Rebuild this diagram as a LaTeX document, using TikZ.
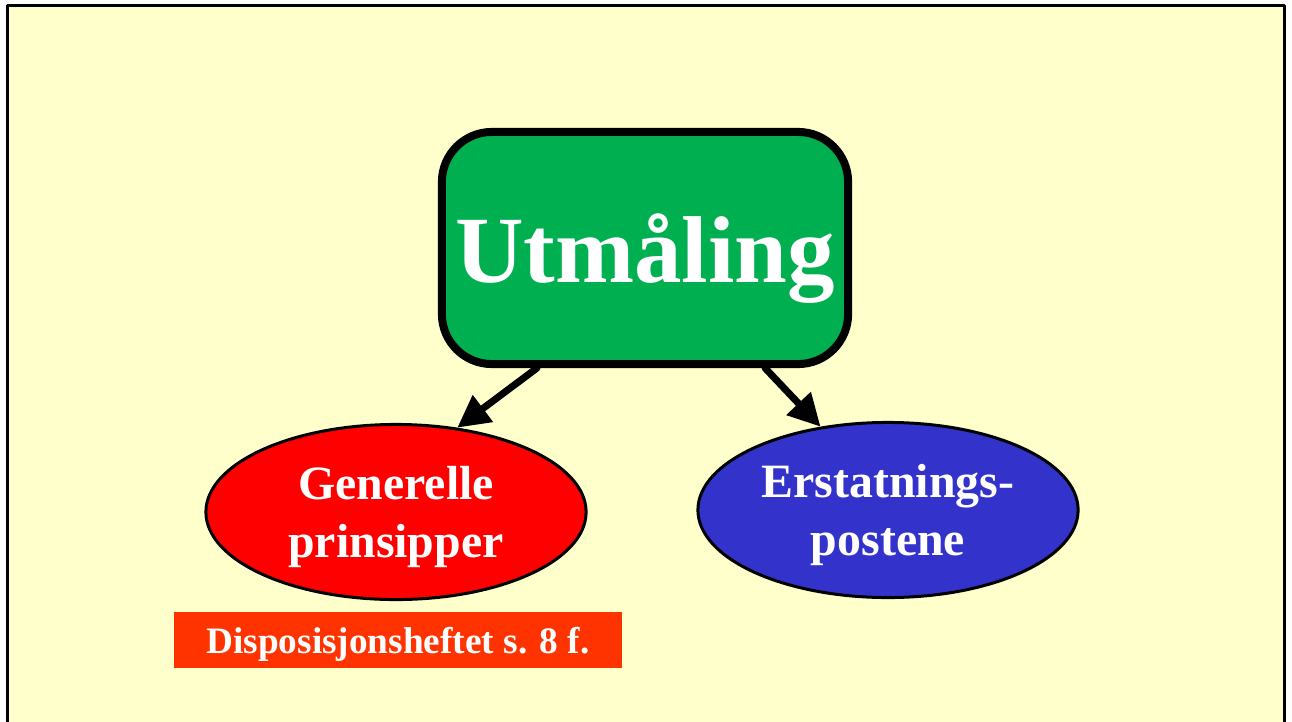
\documentclass[tikz,border=0pt]{standalone}
\usepackage{fontspec}
\setmainfont{Liberation Serif}
\usetikzlibrary{shapes.geometric,arrows.meta}
\definecolor{slidebg}{HTML}{FFFFCC}
\definecolor{hubgreen}{HTML}{00B050}
\definecolor{leftred}{HTML}{FF0000}
\definecolor{rightblue}{HTML}{3333CC}
\definecolor{refbox}{HTML}{FF3300}
\tikzset{
  hub/.style={draw, line width=0.08cm, fill=hubgreen, rounded corners=0.5cm, minimum width=4.06cm, minimum height=2.32cm, text=white, font=\fontsize{27}{32}\selectfont\bfseries, text depth=0pt},
  topic/.style={ellipse, draw, line width=0.03cm, minimum width=3.8cm, minimum height=1.75cm, inner sep=0pt, text=white, align=center, font=\fontsize{13.6}{16.6}\selectfont\bfseries, text depth=0pt},
  source/.style={fill=refbox, minimum width=4.48cm, minimum height=0.55cm, inner sep=0pt, text=white, font=\fontsize{10.6}{12}\selectfont\bfseries, text depth=0pt},
  link/.style={->, line width=0.07cm}
}
\begin{document}
\begin{tikzpicture}[line cap=round,line join=round,>={Triangle[length=0.32cm,width=0.32cm]},x=0.01cm,y=-0.01cm]
\useasboundingbox (0,0) rectangle (1292,721);
\clip (0,0) rectangle (1292,721);
\fill[white] (0,0) rectangle (1292,721);
\draw[line width=0.035cm, fill=slidebg] (7.5,5.5) rectangle (1284.5,760);
\node [hub] (utm) at (645,248) {Utmåling};
\node [topic, fill=leftred] (gen) at (396,512) {Generelle\\prinsipper};
\node [topic, fill=rightblue] (ers) at (888,510) {Erstatnings-\\postene};
\node [source] (disp) at (398,640) {Disposisjonsheftet s. 8 f.};
\draw [link] ([xshift=-1.08cm]utm.south) -- (gen.54);
\draw [link] ([xshift=1.2cm]utm.south) -- (ers.129);
\end{tikzpicture}
\end{document}
